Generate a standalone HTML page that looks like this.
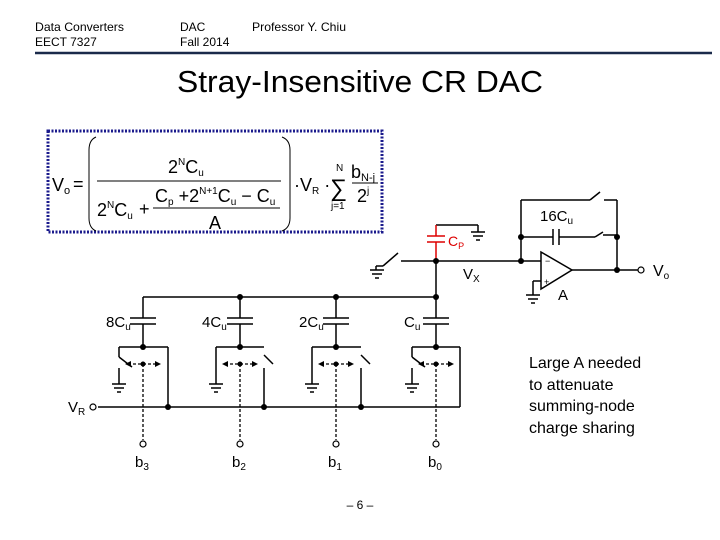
<!DOCTYPE html>
<html><head><meta charset="utf-8"><style>
html,body{margin:0;padding:0;background:#fff;}
svg{display:block;font-family:"Liberation Sans",Arial,sans-serif;}
</style></head><body>
<svg width="720" height="540" viewBox="0 0 720 540" xmlns="http://www.w3.org/2000/svg">
<g font-size="12" fill="#000">
<text x="35" y="31" textLength="89" lengthAdjust="spacingAndGlyphs">Data Converters</text>
<text x="35" y="46">EECT 7327</text>
<text x="180" y="31">DAC</text>
<text x="180" y="46">Fall 2014</text>
<text x="252" y="31" textLength="94" lengthAdjust="spacingAndGlyphs">Professor Y. Chiu</text>
</g>
<line x1="35" y1="53" x2="712" y2="53" stroke="#1a2a4a" stroke-width="2.5"/>
<text x="360" y="92" font-size="31" text-anchor="middle" textLength="366" lengthAdjust="spacingAndGlyphs">Stray-Insensitive CR DAC</text>

<rect x="48" y="131" width="334" height="101" fill="none" stroke="#1a1a8c" stroke-width="3" stroke-dasharray="2,1.5"/>
<g font-size="18" fill="#000">
<text x="52" y="191">V<tspan font-size="11" dy="3">o</tspan></text>
<text x="73" y="190">=</text>
<path d="M96 137 Q89 140 89 150 L89 218 Q89 228 96 231" fill="none" stroke="#000" stroke-width="1"/>
<path d="M282 137 Q290 140 290 150 L290 218 Q290 228 282 231" fill="none" stroke="#000" stroke-width="1"/>
<text x="168" y="173">2<tspan font-size="10" dy="-8">N</tspan><tspan dy="8">C</tspan><tspan font-size="10" dy="3">u</tspan></text>
<line x1="97" y1="181" x2="281" y2="181" stroke="#000" stroke-width="1"/>
<text x="97" y="216">2<tspan font-size="10" dy="-8">N</tspan><tspan dy="8">C</tspan><tspan font-size="10" dy="3">u</tspan></text>
<text x="139" y="215">+</text>
<text x="155" y="202">C<tspan font-size="10" dy="3">p</tspan><tspan dy="-3"> +2</tspan><tspan font-size="10" dy="-8">N+1</tspan><tspan dy="8">C</tspan><tspan font-size="10" dy="3">u</tspan><tspan dy="-3"> − C</tspan><tspan font-size="10" dy="3">u</tspan></text>
<line x1="153" y1="208" x2="280" y2="208" stroke="#000" stroke-width="1"/>
<text x="209" y="229">A</text>
<text x="294" y="191">·V<tspan font-size="10" dy="3">R</tspan><tspan dy="-3"> ·</tspan></text>
<text x="330" y="196" font-size="24">∑</text>
<text x="336" y="171" font-size="10">N</text>
<text x="331" y="209" font-size="10">j=1</text>
<text x="351" y="178">b<tspan font-size="11" dy="3">N-j</tspan></text>
<line x1="352" y1="183" x2="378" y2="183" stroke="#000" stroke-width="1"/>
<text x="357" y="202">2<tspan font-size="10" dy="-8">j</tspan></text>
</g>

<g stroke="#000" stroke-width="1.5" fill="none">
<line x1="401" y1="261" x2="541" y2="261"/>
<line x1="383" y1="266" x2="398" y2="253"/>
<line x1="383" y1="266" x2="376" y2="266"/>
<line x1="436" y1="261" x2="436" y2="297"/>
<line x1="436" y1="225" x2="478" y2="225"/>
<line x1="478" y1="225" x2="478" y2="232"/>
<polygon points="541,252 541,289 572,270"/>
<line x1="533" y1="281" x2="541" y2="281"/>
<line x1="533" y1="281" x2="533" y2="295"/>
<line x1="572" y1="270" x2="638" y2="270"/>
<line x1="521" y1="261" x2="521" y2="200"/>
<line x1="521" y1="200" x2="590" y2="200"/>
<line x1="590" y1="200" x2="600" y2="192"/>
<line x1="604" y1="200" x2="617" y2="200"/>
<line x1="617" y1="200" x2="617" y2="270"/>
<line x1="521" y1="237" x2="553" y2="237"/>
<line x1="553" y1="229" x2="553" y2="245"/>
<line x1="559" y1="229" x2="559" y2="245"/>
<line x1="559" y1="237" x2="595" y2="237"/>
<line x1="595" y1="237" x2="603" y2="232"/>
<line x1="603" y1="235" x2="617" y2="235"/>
<line x1="143" y1="297" x2="436" y2="297"/>
<line x1="98" y1="407" x2="460" y2="407"/>
</g>
<g stroke="#d00" stroke-width="1.5">
<line x1="436" y1="225" x2="436" y2="236"/>
<line x1="427" y1="236" x2="445" y2="236"/>
<line x1="427" y1="242" x2="445" y2="242"/>
<line x1="436" y1="242" x2="436" y2="261"/>
</g>
<text x="448" y="246" font-size="14" fill="#d00">C<tspan font-size="9" dy="3">P</tspan></text>

<g stroke="#000" stroke-width="1.5">
<line x1="376" y1="266" x2="376" y2="270"/>
<line x1="370" y1="270" x2="384" y2="270"/><line x1="372" y1="274" x2="382" y2="274"/><line x1="375" y1="278" x2="379" y2="278"/>
<line x1="471" y1="232" x2="485" y2="232"/><line x1="473" y1="236" x2="483" y2="236"/><line x1="476" y1="240" x2="480" y2="240"/>
<line x1="526" y1="295" x2="540" y2="295"/><line x1="528" y1="299" x2="538" y2="299"/><line x1="531" y1="303" x2="535" y2="303"/>
</g>
<g fill="#000">
<circle cx="436" cy="261" r="3"/><circle cx="521" cy="261" r="3"/><circle cx="521" cy="237" r="3"/>
<circle cx="617" cy="237" r="3"/><circle cx="617" cy="270" r="3"/><circle cx="436" cy="297" r="3"/>
</g>
<circle cx="641" cy="270" r="3" fill="#fff" stroke="#000" stroke-width="1.2"/>
<text x="653" y="276" font-size="16">V<tspan font-size="10" dy="3">o</tspan></text>
<text x="463" y="279" font-size="15">V<tspan font-size="10" dy="3">X</tspan></text>
<text x="558" y="300" font-size="15">A</text>
<text x="545" y="264" font-size="9">−</text>
<text x="544" y="285" font-size="9">+</text>
<text x="540" y="221" font-size="15">16C<tspan font-size="10" dy="3">u</tspan></text>

<g stroke="#000" stroke-width="1.5" fill="none">
<path d="M143 297V318M130 318H156M130 324H156M143 324V347M119 347H168M119 347V357M168 347V407M119 368V384"/>
<line x1="119" y1="357" x2="132" y2="367"/>
<path d="M240 297V318M227 318H253M227 324H253M240 324V347M216 347H264M216 347V384M264 368V407"/>
<line x1="264" y1="355" x2="273" y2="364"/>
<path d="M336 297V318M323 318H349M323 324H349M336 324V347M312 347H361M312 347V384M361 368V407"/>
<line x1="361" y1="355" x2="370" y2="364"/>
<path d="M436 297V318M423 318H449M423 324H449M436 324V347M412 347H460M412 347V357M460 347V407M412 368V384"/>
<line x1="412" y1="357" x2="425" y2="367"/>
</g>
<g stroke="#000" stroke-width="1.5">
<line x1="112" y1="384" x2="126" y2="384"/><line x1="114" y1="388" x2="124" y2="388"/><line x1="117" y1="392" x2="121" y2="392"/>
<line x1="209" y1="384" x2="223" y2="384"/><line x1="211" y1="388" x2="221" y2="388"/><line x1="214" y1="392" x2="218" y2="392"/>
<line x1="305" y1="384" x2="319" y2="384"/><line x1="307" y1="388" x2="317" y2="388"/><line x1="310" y1="392" x2="314" y2="392"/>
<line x1="405" y1="384" x2="419" y2="384"/><line x1="407" y1="388" x2="417" y2="388"/><line x1="410" y1="392" x2="414" y2="392"/>
</g>
<g stroke="#000" stroke-width="1.3" stroke-dasharray="3,2" fill="none">
<path d="M128 364H158M143 364V440"/>
<path d="M225 364H255M240 364V440"/>
<path d="M321 364H351M336 364V440"/>
<path d="M421 364H451M436 364V440"/>
</g>
<g fill="#000">
<polygon points="125,364 131,361 131,367"/><polygon points="161,364 155,361 155,367"/>
<polygon points="222,364 228,361 228,367"/><polygon points="258,364 252,361 252,367"/>
<polygon points="318,364 324,361 324,367"/><polygon points="354,364 348,361 348,367"/>
<polygon points="418,364 424,361 424,367"/><polygon points="454,364 448,361 448,367"/>
<circle cx="143" cy="364" r="2.5"/><circle cx="240" cy="364" r="2.5"/><circle cx="336" cy="364" r="2.5"/><circle cx="436" cy="364" r="2.5"/>
<circle cx="143" cy="347" r="3"/><circle cx="240" cy="347" r="3"/><circle cx="336" cy="347" r="3"/><circle cx="436" cy="347" r="3"/>
<circle cx="240" cy="297" r="3"/><circle cx="336" cy="297" r="3"/>
<circle cx="168" cy="407" r="3"/><circle cx="264" cy="407" r="3"/><circle cx="361" cy="407" r="3"/>
</g>
<g fill="#fff" stroke="#000" stroke-width="1.2">
<circle cx="93" cy="407" r="3"/>
<circle cx="143" cy="444" r="3"/><circle cx="240" cy="444" r="3"/><circle cx="336" cy="444" r="3"/><circle cx="436" cy="444" r="3"/>
</g>
<g font-size="15" fill="#000">
<text x="106" y="327">8C<tspan font-size="10" dy="3">u</tspan></text>
<text x="202" y="327">4C<tspan font-size="10" dy="3">u</tspan></text>
<text x="299" y="327">2C<tspan font-size="10" dy="3">u</tspan></text>
<text x="404" y="327">C<tspan font-size="10" dy="3">u</tspan></text>
<text x="68" y="412">V<tspan font-size="10" dy="3">R</tspan></text>
<text x="135" y="467">b<tspan font-size="10" dy="3">3</tspan></text>
<text x="232" y="467">b<tspan font-size="10" dy="3">2</tspan></text>
<text x="328" y="467">b<tspan font-size="10" dy="3">1</tspan></text>
<text x="428" y="467">b<tspan font-size="10" dy="3">0</tspan></text>
</g>
<g font-size="16" fill="#000">
<text x="529" y="368">Large A needed</text>
<text x="529" y="390">to attenuate</text>
<text x="529" y="411">summing-node</text>
<text x="529" y="433">charge sharing</text>
</g>
<text x="360" y="509" font-size="12" text-anchor="middle">– 6 –</text>
</svg>
</body></html>
